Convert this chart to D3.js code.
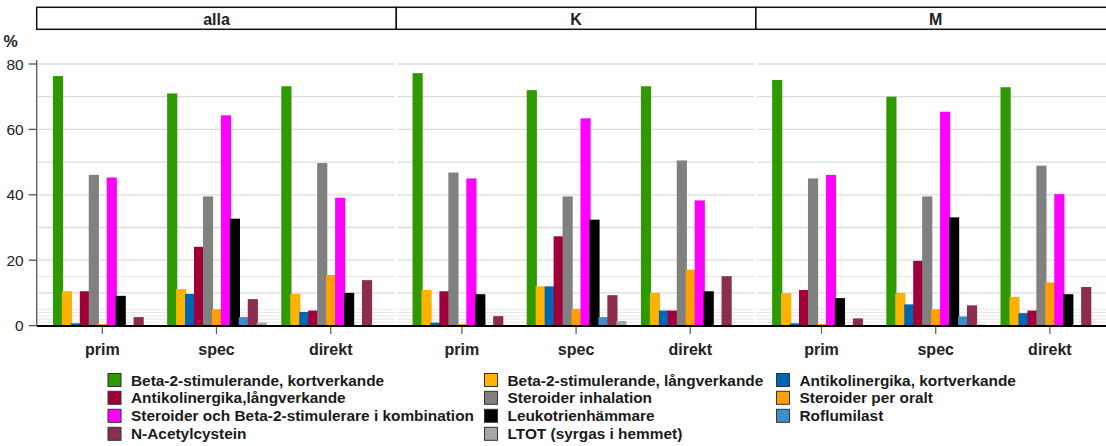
<!DOCTYPE html>
<html><head><meta charset="utf-8">
<script src="https://cdn.jsdelivr.net/npm/d3@7/dist/d3.min.js"></script>
<style>
html,body{margin:0;padding:0;background:#fff;}
svg{display:block;font-family:"Liberation Sans",Arial,sans-serif;}
</style></head>
<body><svg id="chart" width="1106" height="446"></svg>
<script>
const panels = ["alla", "K", "M"];
const categories = ["prim", "spec", "direkt"];
const seriesNames = [
  "Beta-2-stimulerande, kortverkande",
  "Beta-2-stimulerande, långverkande",
  "Antikolinergika, kortverkande",
  "Antikolinergika,långverkande",
  "Steroider inhalation",
  "Steroider per oralt",
  "Steroider och Beta-2-stimulerare i kombination",
  "Leukotrienhämmare",
  "Roflumilast",
  "N-Acetylcystein",
  "LTOT (syrgas i hemmet)"
];
const seriesColors = ["#2f9900","#ffb300","#0066b0","#a0003a","#808080","#ff9f00","#ff00ff","#000000","#3d8ec9","#8b2d4e","#a6a6a6"];
// values per category (prim, spec, direkt), in series order
const valuesAlla = [
  [76.3, 10.5, 0.7, 10.5, 46.1, 0.5, 45.3, 9.1, 0.2, 2.6, 0],
  [71.0, 11.2, 9.7, 24.1, 39.5, 5.0, 64.3, 32.7, 2.6, 8.1, 0.9],
  [73.2, 9.7, 4.2, 4.6, 49.7, 15.5, 39.1, 10.0, 0.1, 13.9, 0.1]
];
const valuesK = [
  [77.2, 10.9, 0.9, 10.5, 46.8, 0.5, 45.0, 9.6, 0.2, 2.9, 0],
  [72.0, 12.0, 12.0, 27.3, 39.5, 5.1, 63.4, 32.4, 2.6, 9.3, 1.4],
  [73.2, 10.0, 4.6, 4.6, 50.5, 17.1, 38.3, 10.5, 0.1, 15.1, 0.1]
];
const valuesM = [
  [75.1, 9.9, 0.7, 10.9, 45.0, 0.5, 46.1, 8.4, 0.2, 2.2, 0],
  [70.0, 10.0, 6.5, 19.8, 39.5, 5.0, 65.4, 33.1, 2.8, 6.2, 0.3],
  [72.9, 8.8, 3.8, 4.6, 48.9, 13.2, 40.2, 9.6, 0.1, 11.8, 0.1]
];
const yTicks = [0, 20, 40, 60, 80];
const majorGrid = [10, 20, 30, 40, 50, 60, 70, 80];
const minorGrid = [1, 2, 3, 4, 5, 15];
const panelValues = [valuesAlla, valuesK, valuesM];

const svg = d3.select("#chart");
const left = 36.7, panelW = 359.6;
const y = d3.scaleLinear().domain([0, 80]).range([325.6, 64]);
const x0 = d3.scaleBand().domain(categories).range([0, panelW]).paddingInner(0.137).paddingOuter(0.143);
const x1 = d3.scaleBand().domain(d3.range(seriesNames.length)).range([0, x0.bandwidth()]);

panels.forEach((p, pi) => {
  const px = left + pi * panelW;
  const g = svg.append("g").attr("transform", `translate(${px},0)`);
  // grid
  g.selectAll("line.minor").data(minorGrid).join("line")
    .attr("x1", 1).attr("x2", panelW - 2)
    .attr("y1", d => y(d)).attr("y2", d => y(d))
    .attr("stroke", "#e6e6e6").attr("stroke-width", 1);
  g.selectAll("line.major").data(majorGrid).join("line")
    .attr("x1", 1).attr("x2", panelW - 2)
    .attr("y1", d => y(d)).attr("y2", d => y(d))
    .attr("stroke", "#dcdcdc").attr("stroke-width", 1.3);
  // bars
  const vals = panelValues[pi];
  categories.forEach((c, ci) => {
    g.append("g").selectAll("rect").data(vals[ci]).join("rect")
      .attr("x", (d, i) => x0(c) + x1(i) - 0.1)
      .attr("width", x1.bandwidth() + 1.2)
      .attr("y", d => y(d))
      .attr("height", d => y(0) - y(d))
      .attr("fill", (d, i) => seriesColors[i]);
  });
  // x ticks and labels
  const xa = g.append("g");
  categories.forEach(c => {
    const cx = x0(c) + x0.bandwidth() / 2;
    xa.append("line").attr("x1", cx).attr("x2", cx).attr("y1", 327).attr("y2", 334)
      .attr("stroke", "#666").attr("stroke-width", 1.3);
    xa.append("text").attr("x", cx).attr("y", 355).attr("text-anchor", "middle")
      .attr("font-size", 16).attr("font-weight", "bold").attr("fill", "#222").text(c);
  });
  // header strip
  g.append("rect").attr("x", 0).attr("y", 7.3).attr("width", panelW).attr("height", 22)
    .attr("fill", "#fff").attr("stroke", "#111").attr("stroke-width", 1.5);
  g.append("text").attr("x", panelW / 2).attr("y", 24.8).attr("text-anchor", "middle")
    .attr("font-size", 16).attr("font-weight", "bold").attr("fill", "#222").text(p);
});

// baseline
svg.append("line").attr("x1", left).attr("x2", 1106).attr("y1", y(0) + 0.4).attr("y2", y(0) + 0.4)
  .attr("stroke", "#000").attr("stroke-width", 2);

// y axis
const ya = svg.append("g").attr("transform", `translate(${left},0)`);
ya.append("line").attr("x1", 0).attr("x2", 0).attr("y1", 60).attr("y2", y(0))
  .attr("stroke", "#555").attr("stroke-width", 1.3);
ya.selectAll("line.t").data(yTicks).join("line")
  .attr("x1", -8).attr("x2", 0).attr("y1", d => y(d)).attr("y2", d => y(d))
  .attr("stroke", "#555").attr("stroke-width", 1.3);
ya.selectAll("text").data(yTicks).join("text")
  .attr("x", -13).attr("y", d => y(d)).attr("dy", "0.36em").attr("text-anchor", "end")
  .attr("font-size", 15.5).attr("fill", "#222").text(d => d);
svg.append("text").attr("x", 3.5).attr("y", 47).attr("font-size", 16).attr("font-weight", "bold")
  .attr("fill", "#222").text("%");

// legend
const colX = [107.5, 484, 776];
const rowY = [380, 397.8, 415.8, 433.8];
const lg = svg.append("g");
seriesNames.forEach((s, i) => {
  const col = i % 3, row = Math.floor(i / 3);
  const gx = colX[col], gy = rowY[row];
  lg.append("rect").attr("x", gx + 0.5).attr("y", gy - 6.5).attr("width", 13).attr("height", 13)
    .attr("fill", seriesColors[i]).attr("stroke", "#333").attr("stroke-width", 1);
  lg.append("text").attr("x", gx + 23.5).attr("y", gy).attr("dy", "0.36em")
    .attr("font-size", 15.4).attr("font-weight", "bold").attr("fill", "#1a1a1a").text(s);
});
</script></body></html>
